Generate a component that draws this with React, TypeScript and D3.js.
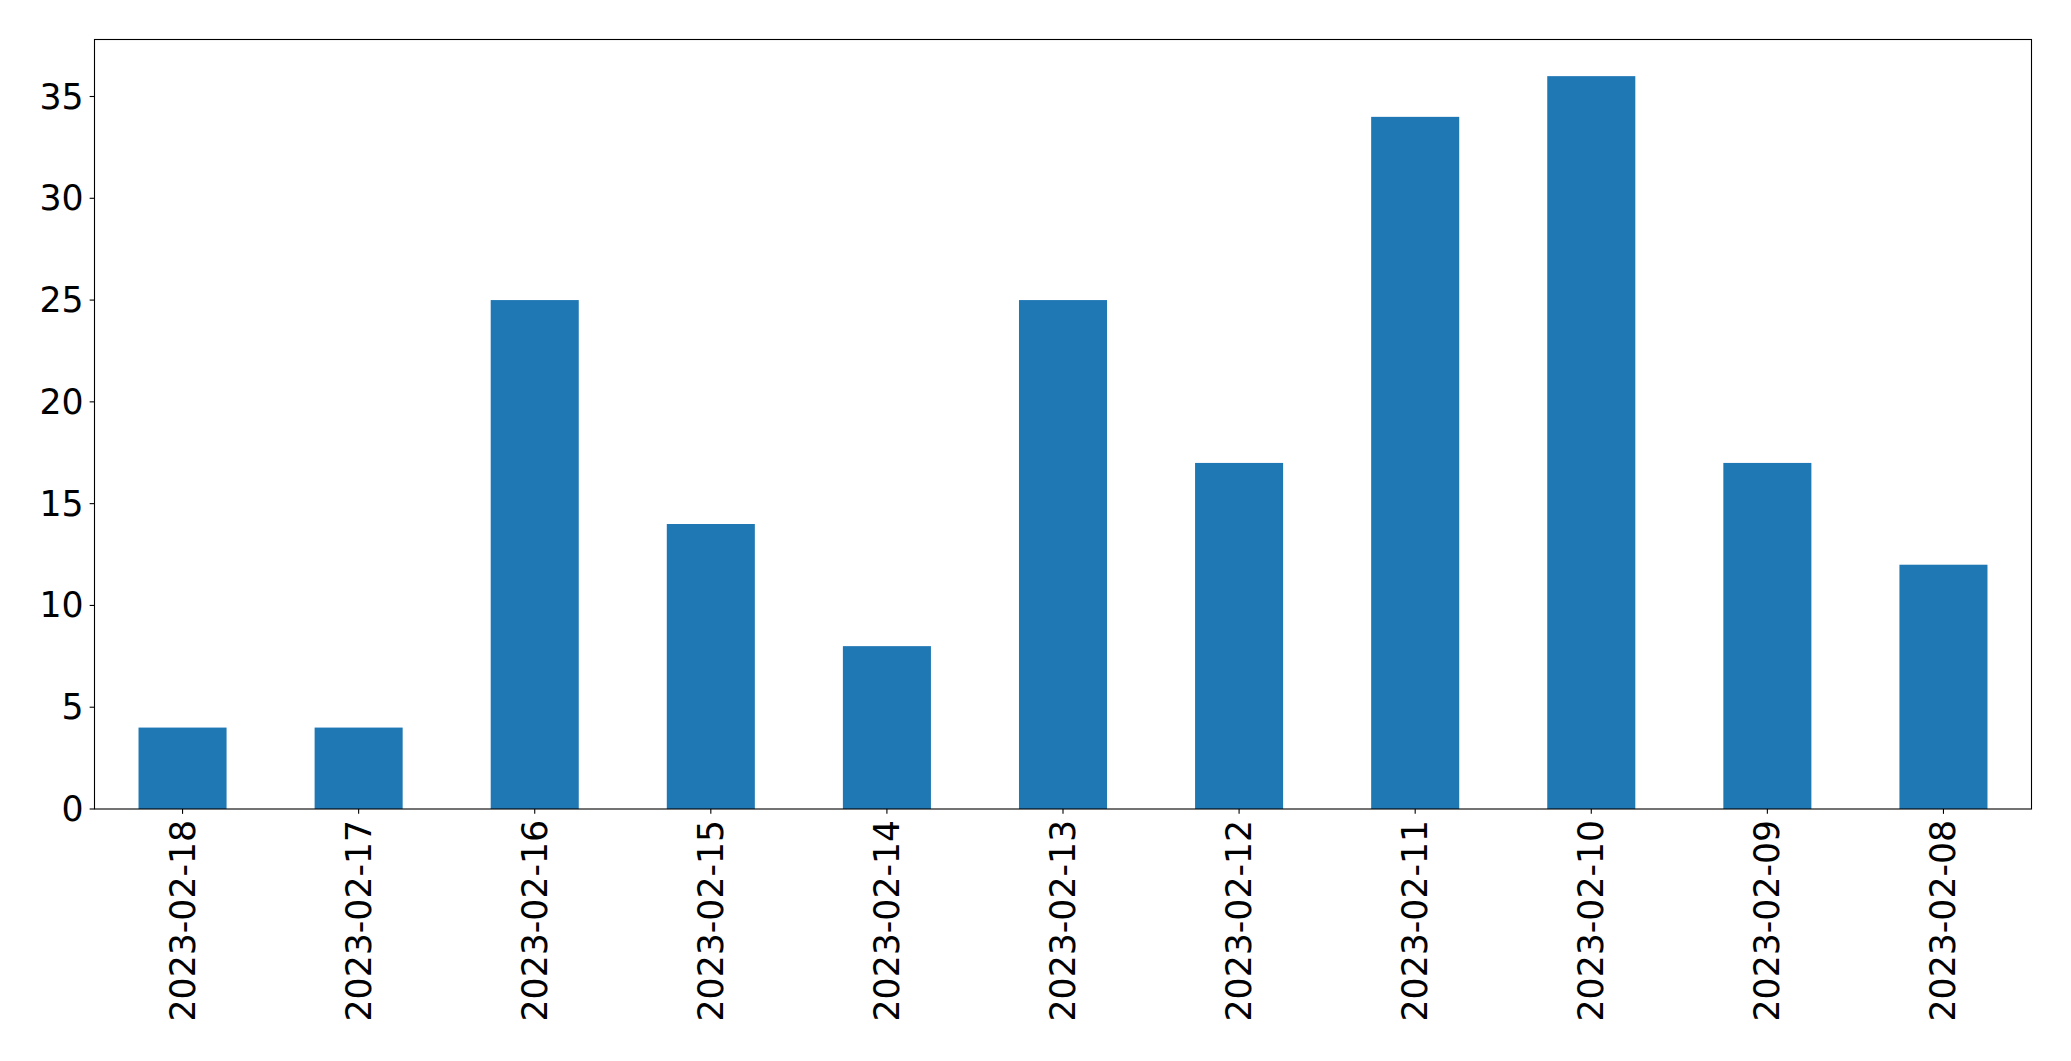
import React from "react";
import * as d3 from "d3";

const categories = ["2023-02-18","2023-02-17","2023-02-16","2023-02-15","2023-02-14","2023-02-13","2023-02-12","2023-02-11","2023-02-10","2023-02-09","2023-02-08"];
const values = [4, 4, 25, 14, 8, 25, 17, 34, 36, 17, 12];
const yTicks = [0, 5, 10, 15, 20, 25, 30, 35];

export default function App() {
  const W = 2071, H = 1061;
  const left = 94.5, right = 2031.5, top = 39.5, bottom = 809;
  const x = d3.scaleLinear().domain([-0.5, categories.length - 0.5]).range([left, right]);
  const y = d3.scaleLinear().domain([0, 36 * 1.05]).range([bottom, top]);
  const bw = x(0.25) - x(-0.25);
  const font = "'DejaVu Sans', sans-serif";
  const fs = 34.7;
  const tick = 4.86;
  return (
    <svg width={W} height={H} style={{ position: "absolute", left: 0, top: 0, background: "#fff" }} fontFamily={font}>
      <rect x={0} y={0} width={W} height={H} fill="#fff" />
      {values.map((v, i) => (
        <rect key={i} x={x(i) - bw / 2} y={y(v)} width={bw} height={y(0) - y(v)} fill="#1f77b4" />
      ))}
      <rect x={left} y={top} width={right - left} height={bottom - top} fill="none" stroke="#000" strokeWidth={1.1} />
      {yTicks.map((t) => (
        <g key={t}>
          <line x1={left - tick} x2={left} y1={y(t)} y2={y(t)} stroke="#000" strokeWidth={1.1} />
          <text x={left - tick - 6} y={y(t)} textAnchor="end" dominantBaseline="central" fontSize={fs} fill="#000">{t}</text>
        </g>
      ))}
      {categories.map((c, i) => (
        <g key={c}>
          <line x1={x(i)} x2={x(i)} y1={bottom} y2={bottom + tick} stroke="#000" strokeWidth={1.1} />
          <text transform={`translate(${x(i)},${bottom + tick + 6}) rotate(-90)`} textAnchor="end" dominantBaseline="central" fontSize={fs} fill="#000">{c}</text>
        </g>
      ))}
    </svg>
  );
}
